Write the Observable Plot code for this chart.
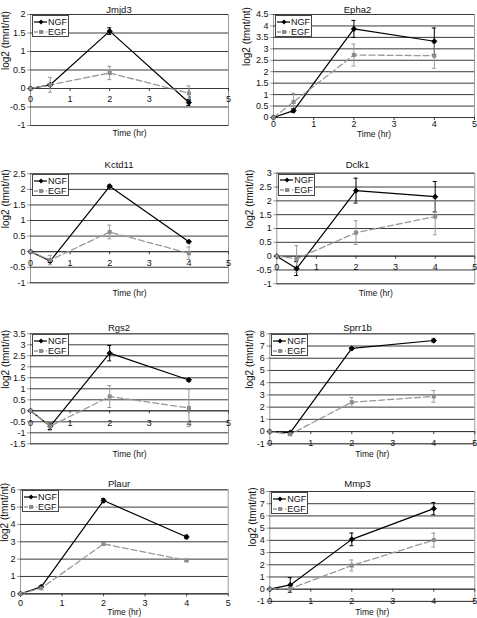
<!DOCTYPE html>
<html><head><meta charset="utf-8">
<script src="https://cdn.jsdelivr.net/npm/d3@7"></script>
<script src="https://cdn.jsdelivr.net/npm/@observablehq/plot@0.6"></script>
<style>
body{margin:0;background:#fff;font-family:"Liberation Sans",Arial,sans-serif;}
#wrap{position:relative;width:477px;height:618px;overflow:hidden;background:#fff;}
.panel{position:absolute;}
.panel svg{overflow:visible;}
.legend{position:absolute;background:#fff;border:1px solid #444;box-sizing:border-box;width:37px;height:22px;font-size:9px;line-height:10px;color:#111;}
.legend .row{display:flex;align-items:center;height:10px;}
.legend svg{display:block;}
</style></head><body><div id="wrap"></div>
<script>
const genes = ["Jmjd3","Epha2","Kctd11","Dclk1","Rgs2","Sprr1b","Plaur","Mmp3"];
const times = [0, 0.5, 2, 4];
const seriesNames = ["NGF","EGF"];
const ngfValues = [
  [0, 0.1, 1.55, -0.38],
  [0, 0.3, 3.87, 3.33],
  [0, -0.3, 2.1, 0.32],
  [0, -0.45, 2.37, 2.15],
  [0, -0.7, 2.62, 1.4],
  [0, -0.08, 6.8, 7.45],
  [0, 0.4, 5.38, 3.28],
  [0, 0.35, 4.08, 6.6]
];
const ngfErrors = [
  [0, 0.03, 0.09, 0.08],
  [0, 0.08, 0.37, 0.58],
  [0, 0.05, 0.04, 0.03],
  [0, 0.25, 0.45, 0.55],
  [0, 0.15, 0.35, 0.05],
  [0, 0.05, 0.08, 0.12],
  [0, 0.05, 0.12, 0.1],
  [0, 0.6, 0.52, 0.5]
];
const egfValues = [
  [0, 0.1, 0.42, -0.13],
  [0, 0.68, 2.73, 2.7],
  [0, -0.27, 0.63, -0.05],
  [0, -0.1, 0.85, 1.43],
  [0, -0.7, 0.65, 0.13],
  [0, -0.22, 2.4, 2.88],
  [0, 0.32, 2.88, 1.92],
  [0, 0.05, 1.94, 4.02]
];
const egfErrors = [
  [0, 0.2, 0.18, 0.2],
  [0, 0.38, 0.48, 0.55],
  [0, 0.15, 0.22, 0.2],
  [0, 0.48, 0.43, 0.66],
  [0, 0.2, 0.5, 0.85],
  [0, 0.1, 0.38, 0.48],
  [0, 0.05, 0.06, 0.06],
  [0, 0.1, 0.45, 0.57]
];
const yMins = [-1, 0, -1, -1, -1.5, -1, 0, -1];
const yMaxs = [2, 4.5, 2.5, 3, 3.5, 8, 6, 8];
const ySteps = [0.5, 0.5, 0.5, 0.5, 0.5, 1, 1, 1];
const xTicks = [0, 1, 2, 3, 4, 5];
const yTitle = "log2 (tmnt/nt)";
const xTitle = "Time (hr)";

// layout (pixels)
const layout = [
  {x0:0,   y0:0,   w:237, h:150, L:30,    R:228,   T:14,    B:125,   titleY:6,     xTitleY:135,   xLabDy:11,  yTitleX:5},
  {x0:237, y0:0,   w:240, h:150, L:273,   R:474,   T:14,    B:117,   titleY:6,     xTitleY:136,   xLabDy:6.5, yTitleX:246},
  {x0:0,   y0:150, w:237, h:155, L:30,    R:228,   T:173.3, B:282.3, titleY:161,   xTitleY:295.7, xLabDy:11,  yTitleX:5},
  {x0:237, y0:150, w:240, h:155, L:276.3, R:474.3, T:172.7, B:283.3, titleY:160.7, xTitleY:295.7, xLabDy:11,  yTitleX:249},
  {x0:0,   y0:305, w:237, h:153, L:30,    R:228,   T:333.3, B:443.3, titleY:324,   xTitleY:456.7, xLabDy:12,  yTitleX:5},
  {x0:237, y0:305, w:240, h:153, L:269.3, R:474.3, T:333.3, B:443.3, titleY:324,   xTitleY:456.7, xLabDy:12,  yTitleX:249},
  {x0:0,   y0:458, w:237, h:160, L:20,    R:227.7, T:489.3, B:593.3, titleY:479.5, xTitleY:614.3, xLabDy:9,   yTitleX:4},
  {x0:237, y0:458, w:240, h:160, L:269.3, R:474.3, T:491,   B:600.9, titleY:479.7, xTitleY:614,   xLabDy:11.5,yTitleX:252}
];

const NGF_COLOR = "#000";
const EGF_COLOR = "#999";
const GRID = "#3a3a3a";
const FONT = "'Liberation Sans', Arial, sans-serif";

const wrap = document.getElementById("wrap");

genes.forEach((gene, i) => {
  const g = layout[i];
  const rows = [];
  times.forEach((t, j) => {
    rows.push({series: "NGF", t, v: ngfValues[i][j], e: ngfErrors[i][j]});
    rows.push({series: "EGF", t, v: egfValues[i][j], e: egfErrors[i][j]});
  });
  const ngfRows = rows.filter(d => d.series === "NGF");
  const egfRows = rows.filter(d => d.series === "EGF");
  const yTicks = d3.range(yMins[i], yMaxs[i] + ySteps[i] / 2, ySteps[i]).map(v => Math.round(v * 100) / 100);

  const mL = g.L - g.x0, mR = g.x0 + g.w - g.R, mT = g.T - g.y0, mB = g.y0 + g.h - g.B;
  const frameCx = (g.L + g.R) / 2;
  const colCx = g.x0 + g.w / 2;

  const errMarks = (data, color) => {
    const d = data.filter(r => r.e > 0);
    return [
      Plot.ruleX(d, {x: "t", y1: r => r.v - r.e, y2: r => r.v + r.e, stroke: color, strokeWidth: 1}),
      Plot.ruleY(d, {x1: "t", x2: "t", y: r => r.v + r.e, insetLeft: -2, insetRight: -2, stroke: color, strokeWidth: 1}),
      Plot.ruleY(d, {x1: "t", x2: "t", y: r => r.v - r.e, insetLeft: -2, insetRight: -2, stroke: color, strokeWidth: 1})
    ];
  };

  const chart = Plot.plot({
    width: g.w, height: g.h,
    marginLeft: mL, marginRight: mR, marginTop: mT, marginBottom: mB,
    x: {domain: [0, 5], axis: null},
    y: {domain: [yMins[i], yMaxs[i]], axis: null},
    style: {fontFamily: FONT, fontSize: "9px", color: "#111", background: "transparent", overflow: "visible"},
    marks: [
      Plot.frame({stroke: "#999"}),
      Plot.gridY(yTicks, {stroke: GRID, strokeOpacity: 1, strokeWidth: 1}),
      Plot.ruleY([0], {stroke: GRID, strokeWidth: 1}),
      Plot.ruleX(xTicks, {x: d => d, y1: () => 0, y2: () => 0, insetBottom: -3, stroke: GRID}),
      Plot.axisY(yTicks, {tickSize: 3, tickPadding: 2, tickFormat: d => String(d), label: null, stroke: "#999", fontSize: 9, fill: "#111"}),
      Plot.text(xTicks, {x: d => d, y: () => 0, dy: g.xLabDy, text: d => String(d), fontSize: 9, fill: "#111"}),
      ...errMarks(ngfRows, NGF_COLOR),
      ...errMarks(egfRows, EGF_COLOR),
      Plot.line(ngfRows, {x: "t", y: "v", stroke: NGF_COLOR, strokeWidth: 1.2}),
      Plot.line(egfRows, {x: "t", y: "v", stroke: EGF_COLOR, strokeWidth: 1.3, strokeDasharray: "6,3"}),
      Plot.dot(ngfRows, {x: "t", y: "v", symbol: "diamond2", r: 2.4, fill: NGF_COLOR, stroke: NGF_COLOR, strokeWidth: 0.8}),
      Plot.dot(egfRows, {x: "t", y: "v", symbol: "square", r: 2.3, fill: "#8c8c8c", stroke: "none"}),
      Plot.text([gene], {frameAnchor: "top", dx: colCx - frameCx, dy: g.titleY - g.T, fontSize: 9.5, fill: "#111"}),
      Plot.text([xTitle], {frameAnchor: "bottom", dy: g.xTitleY - g.B, fontSize: 8.5, fill: "#111"}),
      Plot.text([yTitle], {frameAnchor: "left", dx: g.yTitleX - g.L, rotate: -90, fontSize: 10, fill: "#111"})
    ]
  });

  const div = document.createElement("div");
  div.className = "panel";
  div.style.left = g.x0 + "px";
  div.style.top = g.y0 + "px";
  div.appendChild(chart);

  // legend
  const leg = document.createElement("div");
  leg.className = "legend";
  leg.style.left = (g.L - g.x0 + 2) + "px";
  leg.style.top = (g.T - g.y0 + 1) + "px";
  leg.style.paddingTop = "0.5px";
  seriesNames.forEach((name, k) => {
    const row = document.createElement("div");
    row.className = "row";
    const sw = k === 0
      ? `<svg width="15" height="10"><line x1="1" y1="5" x2="14" y2="5" stroke="${NGF_COLOR}" stroke-width="1.2"/><path d="M8,2.6L10.4,5L8,7.4L5.6,5Z" fill="${NGF_COLOR}"/></svg>`
      : `<svg width="15" height="10"><line x1="1" y1="5" x2="14" y2="5" stroke="${EGF_COLOR}" stroke-width="1.3" stroke-dasharray="4,2"/><rect x="6" y="3" width="4" height="4" fill="#8c8c8c"/></svg>`;
    row.innerHTML = sw + `<span>${name}</span>`;
    leg.appendChild(row);
  });
  div.appendChild(leg);
  wrap.appendChild(div);
});
</script>
</body></html>
